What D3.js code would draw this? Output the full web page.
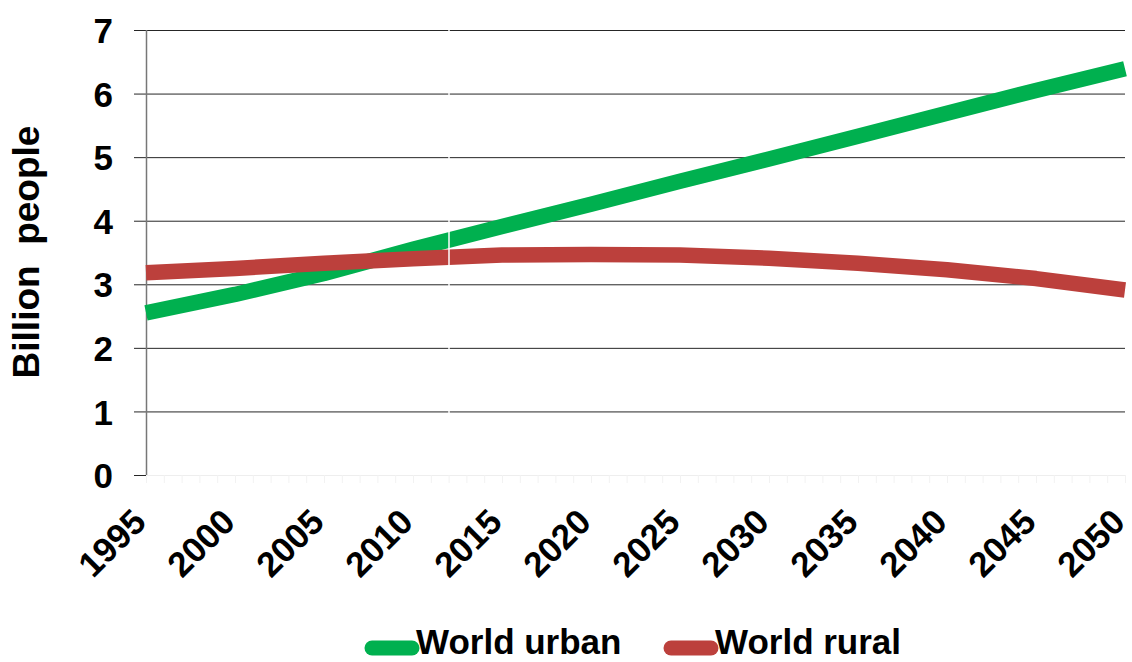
<!DOCTYPE html>
<html>
<head>
<meta charset="utf-8">
<script src="https://cdn.jsdelivr.net/npm/d3@7"></script>
<style>
  body { margin: 0; background: #fff; }
  svg { display: block; font-family: "Liberation Sans", Arial, sans-serif; font-weight: bold; }
</style>
</head>
<body>
<div class="chart-wrapper"></div>
<script>
const years = [1995, 2000, 2005, 2010, 2015, 2020, 2025, 2030, 2035, 2040, 2045, 2050];
const urban = [2.55, 2.84, 3.17, 3.55, 3.91, 4.26, 4.62, 4.97, 5.33, 5.69, 6.05, 6.39];
const rural = [3.18, 3.25, 3.33, 3.40, 3.46, 3.47, 3.46, 3.41, 3.33, 3.23, 3.09, 2.91];
const yTicks = [0, 1, 2, 3, 4, 5, 6, 7];
const seriesNames = ["World urban", "World rural"];

const width = 1132;
const height = 662;

const x = d3.scaleLinear().domain([1995, 2050]).range([146, 1125]);
const y = d3.scaleLinear().domain([0, 7]).range([475, 30]);
const color = d3.scaleOrdinal(seriesNames, ["#00b04f", "#bc403c"]);

const svg = d3.select(".chart-wrapper").append("svg")
    .attr("width", width)
    .attr("height", height)

// gridlines + y ticks
const yAxis = svg.append("g")
    .attr("transform", "translate(146,0)")
    .call(d3.axisLeft(y).tickValues(yTicks).tickSize(-979).tickSizeOuter(0).tickFormat(d3.format("d")))
yAxis.select(".domain").remove()
yAxis.selectAll(".tick line")
    .attr("x1", -12)
    .attr("stroke", "#262626")
yAxis.selectAll(".tick text")
    .style("font-size", "35px")
    .style("font-weight", "bold")
    .attr("fill", "#000")
    .attr("x", -33)
    .attr("dy", "0.36em")

// faint x axis with yearly ticks
const xAxis = svg.append("g")
    .attr("transform", "translate(0,475)")
    .call(d3.axisBottom(x).tickValues(d3.range(1995, 2051)).tickSize(8).tickSizeOuter(0).tickFormat(""))
xAxis.select(".domain").attr("stroke", "#eee")
xAxis.selectAll(".tick line").attr("stroke", "#f2f2f2")

// x labels
svg.append("g")
    .selectAll("text")
    .data(years)
    .join("text")
    .attr("transform", d => `translate(${x(d) + 2},524) rotate(-45)`)
    .attr("text-anchor", "end")
    .style("font-size", "35px")
    .text(d => d)

// y axis line
svg.append("line")
    .attr("x1", 146.5).attr("x2", 146.5)
    .attr("y1", 30).attr("y2", 475)
    .attr("stroke", "#777")
    .attr("stroke-width", 1.5)

const line = d3.line()
    .x((d, i) => x(years[i]))
    .y(d => y(d))

svg.append("g")
    .selectAll("path")
    .data([urban, rural])
    .join("path")
    .attr("d", line)
    .attr("fill", "none")
    .attr("stroke", (d, i) => color(seriesNames[i]))
    .attr("stroke-width", 15.5)
    .attr("stroke-linejoin", "round")

// thin white seam seen in the original
svg.append("line")
    .attr("x1", 449).attr("x2", 449)
    .attr("y1", 30).attr("y2", 475)
    .attr("stroke", "#fff")
    .attr("stroke-width", 1.5)

// y title
svg.append("text")
    .attr("transform", "translate(39,252) rotate(-90)")
    .attr("text-anchor", "middle")
    .style("font-size", "37px")
    .style("white-space", "pre")
    .text("Billion  people")

// legend
const legendX = [372, 671];
const legend = svg.append("g")
    .selectAll("g")
    .data(seriesNames)
    .join("g")
    .attr("transform", (d, i) => `translate(${legendX[i]},648)`)
legend.append("line")
    .attr("x1", 0).attr("x2", 40)
    .attr("stroke", d => color(d))
    .attr("stroke-width", 15)
    .attr("stroke-linecap", "round")
legend.append("text")
    .attr("x", 44)
    .attr("y", 6)
    .style("font-size", "35px")
    .text(d => d)
</script>
</body>
</html>
